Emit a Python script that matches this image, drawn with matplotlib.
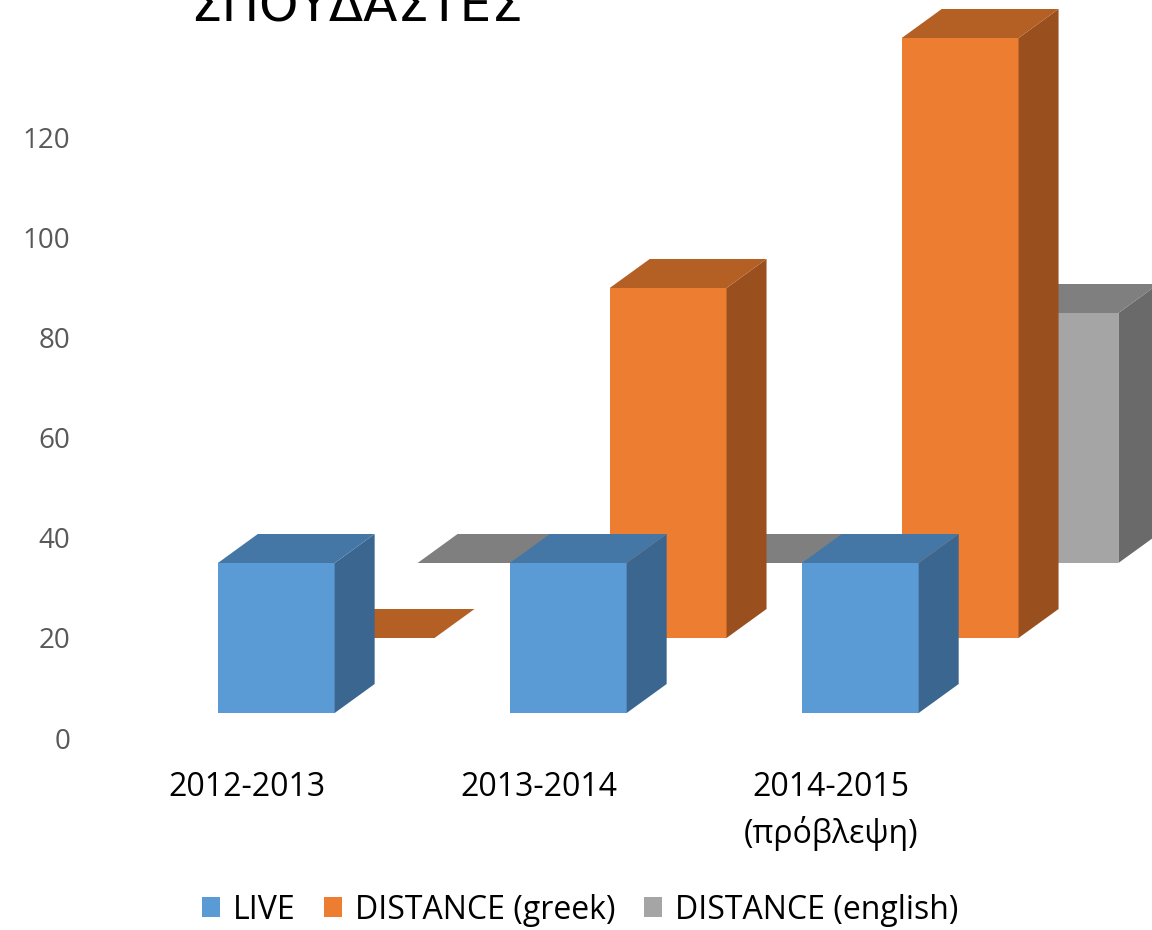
import matplotlib
matplotlib.use("Agg")
import matplotlib.pyplot as plt
from matplotlib.patches import Polygon, Patch

# data
years = ["2012-2013", "2013-2014", "2014-2015\n(πρόβλεψη)"]
series = ["LIVE", "DISTANCE (greek)", "DISTANCE (english)"]
live = [30, 30, 30]
greek = [0, 70, 120]
english = [0, 0, 50]
values = [live, greek, english]

# colours: front, top, side
front = ["#5B9BD5", "#ED7D31", "#A5A5A5"]
top = ["#4577A6", "#B45F23", "#7F7F7F"]
side = ["#3A6690", "#9A4F1E", "#6A6A6A"]

# pseudo 3d geometry (data units)
w = 0.40        # front face width
x0 = -0.10      # left edge of the front series relative to category
sx, sy = 0.342, 15   # shift for each series going back
dx, dy = 0.137, 5.8  # depth of a single bar
base0 = 5

fig = plt.figure(figsize=(11.52, 9.30), dpi=100)
ax = fig.add_axes([80 / 1152, 192 / 930, 1 - 80 / 1152, 738 / 930])
ax.set_xlim(-0.572, 3.099)
ax.set_ylim(0, 147.6)


def draw_bar(xl, b, h, k):
    xr = xl + w
    t = b + h
    if h > 0:
        ax.add_patch(Polygon([(xl, b), (xr, b), (xr, t), (xl, t)],
                             closed=True, fc=front[k], ec="none"))
        ax.add_patch(Polygon([(xr, b), (xr + dx, b + dy), (xr + dx, t + dy), (xr, t)],
                             closed=True, fc=side[k], ec="none"))
    ax.add_patch(Polygon([(xl, t), (xr, t), (xr + dx, t + dy), (xl + dx, t + dy)],
                         closed=True, fc=top[k], ec="none"))


# back to front
for k in [2, 1, 0]:
    for i, v in enumerate(values[k]):
        draw_bar(i + x0 + k * sx, base0 + k * sy, v, k)

for s in ax.spines.values():
    s.set_visible(False)
ax.set_yticks(range(0, 121, 20))
ax.tick_params(axis="y", length=0, pad=7, labelsize=20, labelcolor="#595959")
for lab in ax.get_yticklabels():
    lab.set_fontfamily("Open Sans")
ax.set_xticks(range(len(years)))
ax.set_xticklabels(years, fontfamily="Open Sans", fontsize=23, color="black",
                   linespacing=1.45)
ax.tick_params(axis="x", length=0, pad=24)

fig.text(190 / 1152, 1 - 22 / 930, "ΣΠΟΥΔΑΣΤΕΣ", fontsize=36, color="black",
         ha="left", va="baseline", fontfamily="DejaVu Sans")

handles = [Patch(fc=front[k], ec="none") for k in range(3)]
fig.legend(handles, series, loc="center", bbox_to_anchor=(580 / 1152, 1 - 910 / 930),
           ncol=3, frameon=False, prop={"family": "Open Sans", "size": 23},
           handlelength=0.56, handleheight=0.56, handletextpad=0.4, columnspacing=0.9,
           labelcolor="black")

fig.savefig("out.png", dpi=100)
